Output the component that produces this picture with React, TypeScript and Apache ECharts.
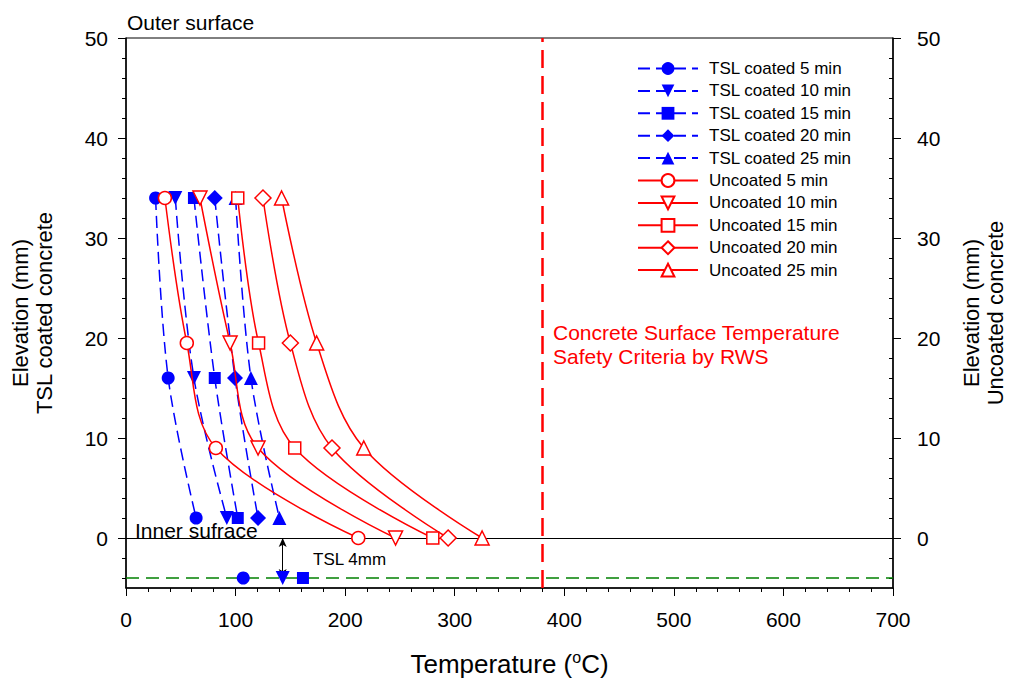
import React, { useEffect, useRef } from 'react';
import * as echarts from 'echarts';

const FONT = "'Liberation Sans', Arial, Helvetica, sans-serif";

// Elevations (mm)
const elevTSL = [34, 16, 2];
const elevUncoated = [34, 19.5, 9, 0];
const elevTSLBase = -4;

// TSL coated temperatures (°C)
const tsl5 = [27, 38.5, 64];
const tsl10 = [45, 62, 92];
const tsl15 = [62, 81, 102];
const tsl20 = [81, 99.5, 120.5];
const tsl25 = [100, 114, 140];
// TSL coated temperatures at the substrate (-4 mm): 5, 10, 15 min
const tslBase = [107, 143, 161.5];

// Uncoated temperatures (°C)
const unc5 = [35.5, 55.5, 82, 212];
const unc10 = [67.5, 95, 120.5, 246];
const unc15 = [102, 121, 154, 280];
const unc20 = [125, 150, 188, 294];
const unc25 = [142, 174, 217, 325];

const tslNames = ['TSL coated 5 min', 'TSL coated 10 min', 'TSL coated 15 min', 'TSL coated 20 min', 'TSL coated 25 min'];
const uncNames = ['Uncoated 5 min', 'Uncoated 10 min', 'Uncoated 15 min', 'Uncoated 20 min', 'Uncoated 25 min'];
const symbols = ['circle', 'triangle', 'rect', 'diamond', 'triangle'];
const rotations = [0, 180, 0, 0, 0];
const symbolSizes = [13, 14, 12, 16, 14];

const safetyTemp = 380;
const arrowTemp = 143;

const yMajorTicks = [0, 10, 20, 30, 40, 50];
const yMinorTicks = [-4, -2, 2, 4, 6, 8, 12, 14, 16, 18, 22, 24, 26, 28, 32, 34, 36, 38, 42, 44, 46, 48];

const BLUE = '#0000ff';
const RED = '#ff0000';

export default function App() {
  const ref = useRef<HTMLDivElement>(null);

  useEffect(() => {
    if (!ref.current) return;
    const chart = echarts.init(ref.current, undefined, { renderer: 'svg' });

    const tslSets = [tsl5, tsl10, tsl15, tsl20, tsl25];
    const uncSets = [unc5, unc10, unc15, unc20, unc25];

    const series: any[] = [];
    tslSets.forEach((temps, i) => {
      series.push({
        type: 'line',
        name: tslNames[i],
        data: temps.map((t, k) => [t, elevTSL[k]]),
        symbol: symbols[i],
        symbolRotate: rotations[i],
        symbolSize: symbolSizes[i],
        smooth: 0.35,
        lineStyle: { color: BLUE, width: 1.5, type: [12, 6] },
        itemStyle: { color: BLUE, borderWidth: 0, opacity: 1 },
        z: 3,
      });
    });
    tslBase.forEach((t, i) => {
      series.push({
        type: 'scatter',
        name: tslNames[i] + ' base',
        data: [[t, elevTSLBase]],
        symbol: symbols[i],
        symbolRotate: rotations[i],
        symbolSize: symbolSizes[i],
        itemStyle: { color: BLUE, borderWidth: 0, opacity: 1 },
        z: 3,
      });
    });
    uncSets.forEach((temps, i) => {
      series.push({
        type: 'line',
        name: uncNames[i],
        data: temps.map((t, k) => [t, elevUncoated[k]]),
        symbol: symbols[i],
        symbolRotate: rotations[i],
        symbolSize: symbolSizes[i],
        smooth: 0.35,
        lineStyle: { color: RED, width: 1.5, type: 'solid' },
        itemStyle: { color: '#ffffff', borderColor: RED, borderWidth: 1.5, opacity: 1 },
        z: 4,
      });
    });
    // reference lines
    series.push({
      type: 'line',
      name: 'refs',
      data: [],
      markLine: {
        silent: true,
        z: 1,
        symbol: 'none',
        animation: false,
        label: { show: false },
        data: [
          { xAxis: safetyTemp, lineStyle: { color: RED, width: 2.5, type: [18, 8] } },
          { yAxis: 0, lineStyle: { color: '#000', width: 1, type: 'solid' } },
          { yAxis: elevTSLBase, lineStyle: { color: '#008000', width: 1.5, type: [13, 7] } },
          [
            { coord: [arrowTemp, 0], symbol: 'arrow', symbolSize: [6, 9], lineStyle: { color: '#000', width: 1, type: 'solid' } },
            { coord: [arrowTemp, elevTSLBase], symbol: 'arrow', symbolSize: [6, 9] },
          ],
        ],
      },
    });

    const axisLineStyle = { color: '#000', width: 1.5 };
    const tickStyle = { color: '#000', width: 1 };
    const labelStyle = { fontSize: 21, color: '#000', fontFamily: FONT };
    const nameStyle = { fontSize: 22, lineHeight: 24, color: '#000', fontFamily: FONT };

    const option: any = {
      animation: false,
      backgroundColor: '#ffffff',
      textStyle: { fontFamily: FONT },
      grid: {
        left: 126, right: 116, top: 38, bottom: 95,
        outerBoundsMode: 'none',
        containLabel: false,
        show: true, borderColor: '#000', borderWidth: 1, backgroundColor: 'transparent',
      },
      legend: {
        data: [...tslNames, ...uncNames],
        orient: 'vertical',
        left: 632,
        top: 55,
        itemWidth: 60,
        itemHeight: 16,
        itemGap: 5.4,
        selectedMode: false,
        textStyle: { fontSize: 17, lineHeight: 16, color: '#000', fontFamily: FONT, padding: [0, 0, 0, 6] },
      },
      xAxis: {
        type: 'value',
        min: 0,
        max: 700,
        interval: 100,
        position: 'bottom',
        axisLine: { show: true, onZero: false, lineStyle: axisLineStyle },
        axisTick: { show: true, length: 8, lineStyle: tickStyle },
        minorTick: { show: true, splitNumber: 5, length: 4, lineStyle: tickStyle },
        splitLine: { show: false },
        minorSplitLine: { show: false },
        axisLabel: { ...labelStyle, margin: 21 },
        name: '{a|Temperature (}{b|o}{a|C)}',
        nameLocation: 'middle',
        nameGap: 61,
        nameTextStyle: {
          rich: {
            a: { fontSize: 26, lineHeight: 30, color: '#000', fontFamily: FONT },
            b: { fontSize: 16, lineHeight: 16, color: '#000', fontFamily: FONT, verticalAlign: 'top' },
          },
        },
      },
      yAxis: [
        {
          type: 'value', min: -5, max: 50, position: 'left',
          axisLine: { show: true, onZero: false, lineStyle: axisLineStyle },
          axisTick: { show: true, length: 8, customValues: yMajorTicks, lineStyle: tickStyle },
          axisLabel: { ...labelStyle, margin: 18, customValues: yMajorTicks },
          splitLine: { show: false },
          name: 'Elevation (mm)\nTSL coated concrete',
          nameLocation: 'middle', nameGap: 70, nameTextStyle: nameStyle,
        },
        {
          type: 'value', min: -5, max: 50, position: 'left',
          axisLine: { show: false, onZero: false },
          axisTick: { show: true, length: 4, customValues: yMinorTicks, lineStyle: tickStyle },
          axisLabel: { show: false },
          splitLine: { show: false },
        },
        {
          type: 'value', min: -5, max: 50, position: 'right',
          axisLine: { show: true, onZero: false, lineStyle: axisLineStyle },
          axisTick: { show: true, length: 8, customValues: yMajorTicks, lineStyle: tickStyle },
          axisLabel: { ...labelStyle, margin: 24, customValues: yMajorTicks },
          splitLine: { show: false },
          name: 'Elevation (mm)\nUncoated concrete',
          nameLocation: 'middle', nameGap: 66, nameTextStyle: nameStyle,
        },
        {
          type: 'value', min: -5, max: 50, position: 'right',
          axisLine: { show: false, onZero: false },
          axisTick: { show: true, inside: true, length: 4, customValues: yMinorTicks, lineStyle: tickStyle },
          axisLabel: { show: false },
          splitLine: { show: false },
        },
      ],
      graphic: [
        { type: 'text', z: 100, x: 127, y: 22, style: { text: 'Outer surface', font: `21px ${FONT}`, fill: '#000', verticalAlign: 'middle' } },
        { type: 'text', z: 100, x: 135, y: 530, style: { text: 'Inner sufrace', font: `21px ${FONT}`, fill: '#000', verticalAlign: 'middle' } },
        { type: 'text', z: 100, x: 313, y: 559, style: { text: 'TSL 4mm', font: `17px ${FONT}`, fill: '#000', verticalAlign: 'middle' } },
        { type: 'text', z: 100, x: 553, y: 332, style: { text: 'Concrete Surface Temperature', font: `21px ${FONT}`, fill: RED, verticalAlign: 'middle' } },
        { type: 'text', z: 100, x: 553, y: 356, style: { text: 'Safety Criteria by RWS', font: `21px ${FONT}`, fill: RED, verticalAlign: 'middle' } },
      ],
      series,
    };

    chart.setOption(option);
    return () => chart.dispose();
  }, []);

  return (
    <div
      ref={ref}
      style={{ position: 'fixed', left: 0, top: 0, width: 1009, height: 683, background: '#fff' }}
    />
  );
}
